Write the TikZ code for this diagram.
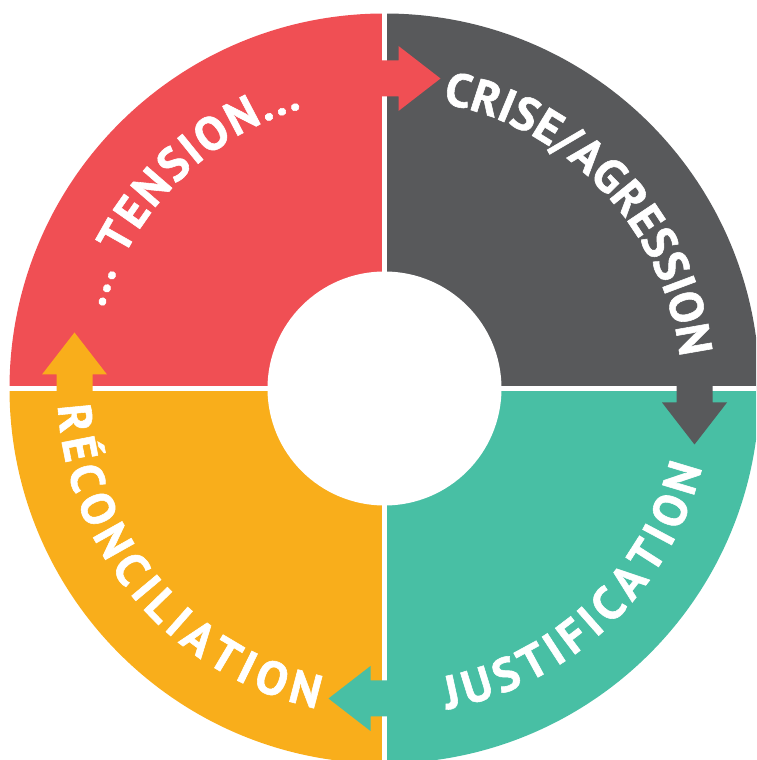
\documentclass[tikz,border=0pt]{standalone}
\usepackage{fontspec}
\newfontfamily\lblfont[BoldFeatures={FakeBold=1.2}]{PT Sans}
\usetikzlibrary{decorations.text,calc}
\definecolor{cred}{RGB}{240,79,84}
\definecolor{cgray}{RGB}{88,89,91}
\definecolor{cteal}{RGB}{72,191,164}
\definecolor{corange}{RGB}{249,174,27}
\tikzset{
  ringlabel/.style={decorate, decoration={text along path, text align={fit to path}, text color=white,
      text={|\lblfont\bfseries\fontsize{47}{47}\selectfont|#1}}},
  gapline/.style={white, line width=4.5pt}
}
\begin{document}
\begin{tikzpicture}[x=1pt,y=1pt]
\useasboundingbox (0,0) rectangle (756,760);
\clip (0,0) rectangle (756,760);
\coordinate (C) at (384.5,371.5);
% quadrants
\fill[cred]    (C) -- ($(C)+(90:375)$)  arc[start angle=90,  end angle=180, radius=375] -- cycle;
\fill[cgray]   (C) -- ($(C)+(0:375)$)   arc[start angle=0,   end angle=90,  radius=375] -- cycle;
\fill[cteal]   (C) -- ($(C)+(-90:375)$) arc[start angle=-90, end angle=0,   radius=375] -- cycle;
\fill[corange] (C) -- ($(C)+(180:375)$) arc[start angle=180, end angle=270, radius=375] -- cycle;
% gaps
\draw[gapline] ($(C)+(0,-380)$) -- ($(C)+(0,380)$);
\draw[gapline] ($(C)+(-380,0)$) -- ($(C)+(380,0)$);
\fill[white] (C) circle[radius=117];
% arrows
\foreach \rot/\col in {0/cred, -90/cgray, -180/cteal, -270/corange} {
  \fill[\col, shift={(C)}, rotate=\rot]
    (-12,292) -- (14,292) -- (14,277.5) -- (56,310) -- (14,342.5) -- (14,328) -- (-12,328) -- cycle;
}
% labels
\path[ringlabel={... TENSION...}] ($(C)+(164:292)$) arc[start angle=164, end angle=106.5, radius=292];
\path[ringlabel={CRISE/AGRESSION}] plot[domain=78.5:8.5, samples=80, variable=\t]
  ({384.5+(291+6*(78.5-\t)/70)*cos(\t)}, {371.5+(291+6*(78.5-\t)/70)*sin(\t)});
\path[ringlabel={JUSTIFICATION}] ($(C)+(-79:327)$) arc[start angle=-79, end angle=-14, radius=327];
\path[ringlabel={RÉCONCILIATION}] ($(C)+(183:327)$) arc[start angle=183, end angle=258, radius=327];
\end{tikzpicture}
\end{document}
